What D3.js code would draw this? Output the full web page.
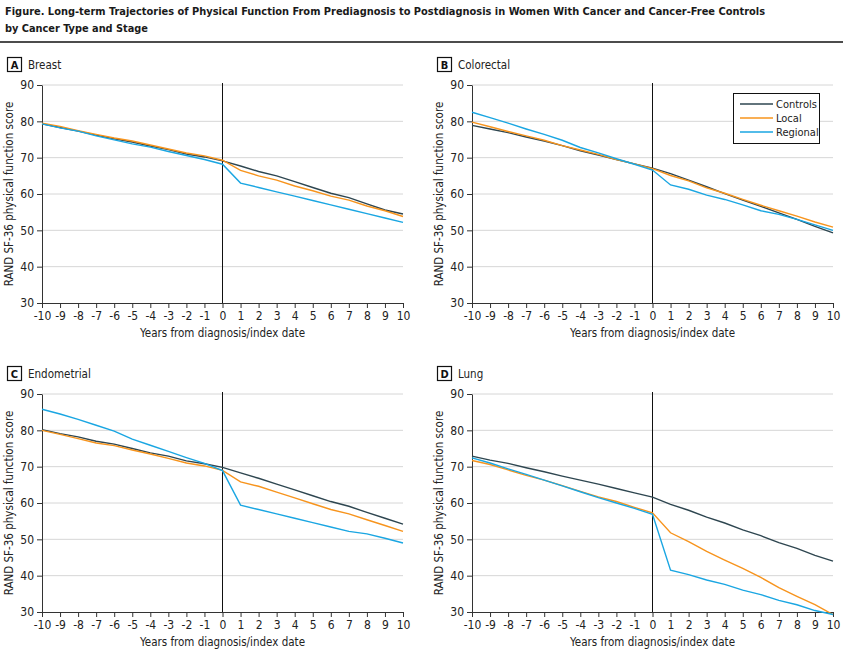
<!DOCTYPE html>
<html><head><meta charset="utf-8">
<script src="https://cdn.jsdelivr.net/npm/d3@7"></script>
<style>
body{margin:0;background:#fff;}
text{font-family:"Liberation Sans Narrow","DejaVu Sans Condensed","Roboto",sans-serif;}
</style></head>
<body><svg id="c" width="843" height="653"></svg>
<script>
const years = [-10,-9,-8,-7,-6,-5,-4,-3,-2,-1,0,1,2,3,4,5,6,7,8,9,10];
const yTicks = [30,40,50,60,70,80,90];
const seriesNames = ["Controls","Local","Regional"];
const seriesColors = ["#2e4650","#f7941d","#1aa6e2"];

const breastControls = [79.3,78.3,77.3,76.2,75.2,74.3,73.2,72.2,71.0,70.2,69.1,67.7,66.2,65.0,63.4,61.8,60.2,59.0,57.3,55.6,54.5];
const breastLocal    = [79.5,78.6,77.4,76.4,75.4,74.6,73.5,72.4,71.3,70.5,69.3,66.5,65.0,63.8,62.2,60.9,59.4,58.3,56.7,55.4,53.8];
const breastRegional = [79.3,78.2,77.3,76.0,74.9,73.8,72.9,71.7,70.6,69.5,68.2,63.0,61.8,60.6,59.4,58.2,57.0,55.8,54.6,53.4,52.2];

const colorectalControls = [78.9,77.9,76.9,75.7,74.6,73.3,71.9,70.7,69.5,68.3,67.1,65.6,63.8,62.0,60.1,58.3,56.6,54.8,53.0,51.1,49.3];
const colorectalLocal    = [79.8,78.5,77.2,76.0,74.8,73.3,72.1,70.9,69.5,68.3,67.0,65.1,63.6,61.7,60.2,58.5,56.9,55.4,53.9,52.3,50.9];
const colorectalRegional = [82.5,81.0,79.5,77.9,76.4,74.8,72.8,71.3,69.7,68.2,66.6,62.5,61.3,59.7,58.5,57.0,55.4,54.4,53.0,51.5,50.0];

const endometrialControls = [80.2,79.1,78.2,77.0,76.2,75.0,73.8,72.9,71.6,70.8,69.8,68.3,66.8,65.2,63.6,62.0,60.4,59.1,57.4,55.8,54.2];
const endometrialLocal    = [80.0,78.9,77.7,76.5,75.8,74.6,73.5,72.3,71.0,70.2,69.0,65.8,64.6,63.0,61.4,59.8,58.2,57.0,55.4,53.8,52.2];
const endometrialRegional = [85.8,84.5,83.0,81.4,79.8,77.6,75.9,74.2,72.5,70.9,68.9,59.4,58.2,57.0,55.8,54.6,53.4,52.2,51.5,50.3,49.0];

const lungControls = [72.9,71.8,70.9,69.7,68.6,67.4,66.3,65.2,64.0,62.8,61.6,59.6,58.0,56.1,54.5,52.6,51.0,49.1,47.5,45.6,44.0];
const lungLocal    = [71.7,70.6,69.1,67.6,66.3,64.8,63.2,61.7,60.4,58.8,57.3,51.8,49.4,46.7,44.3,42.0,39.5,36.7,34.3,32.0,29.3];
const lungRegional = [72.4,71.0,69.4,67.9,66.3,64.7,63.1,61.5,60.0,58.5,56.9,41.5,40.3,38.8,37.6,36.0,34.8,33.2,32.0,30.4,29.3];

const panels = [
  {letter:"A", name:"Breast", series:[breastControls,breastLocal,breastRegional], x0:42, x1:403, y0:85, y1:303, legend:false},
  {letter:"B", name:"Colorectal", series:[colorectalControls,colorectalLocal,colorectalRegional], x0:472, x1:833, y0:85, y1:303, legend:true},
  {letter:"C", name:"Endometrial", series:[endometrialControls,endometrialLocal,endometrialRegional], x0:42, x1:403, y0:394, y1:612, legend:false},
  {letter:"D", name:"Lung", series:[lungControls,lungLocal,lungRegional], x0:472, x1:833, y0:394, y1:612, legend:false}
];

const svg = d3.select("#c");
const txt = "#222";

// Title
svg.append("text").attr("x",5).attr("y",15).attr("font-size",11).attr("font-weight","bold").attr("fill","#1a1a1a")
  .attr("textLength",760).attr("lengthAdjust","spacingAndGlyphs")
  .text("Figure. Long-term Trajectories of Physical Function From Prediagnosis to Postdiagnosis in Women With Cancer and Cancer-Free Controls");
svg.append("text").attr("x",5).attr("y",32).attr("font-size",11).attr("font-weight","bold").attr("fill","#1a1a1a")
  .attr("textLength",143).attr("lengthAdjust","spacingAndGlyphs")
  .text("by Cancer Type and Stage");
svg.append("line").attr("x1",0).attr("x2",843).attr("y1",42).attr("y2",42).attr("stroke","#111").attr("stroke-width",1.5);

panels.forEach(p => {
  const g = svg.append("g");
  const x = d3.scaleLinear().domain([-10,10]).range([p.x0,p.x1]);
  const y = d3.scaleLinear().domain([30,90]).range([p.y1,p.y0]);

  // panel label
  const bx = p.x0 - 35, by = p.y0 - 28;
  g.append("rect").attr("x",bx+0.5).attr("y",by+0.5).attr("width",14).attr("height",14).attr("fill","none").attr("stroke","#111").attr("stroke-width",1.2);
  g.append("text").attr("x",bx+7.5).attr("y",by+11.5).attr("text-anchor","middle").attr("font-size",11).attr("font-weight","bold").attr("fill","#111").text(p.letter);
  g.append("text").attr("x",bx+21).attr("y",by+11.5).attr("font-size",11.5).attr("fill",txt).text(p.name);

  // gridlines
  g.selectAll(".grid").data(yTicks.filter(t=>t>30)).join("line")
    .attr("x1",p.x0).attr("x2",p.x1).attr("y1",d=>y(d)).attr("y2",d=>y(d))
    .attr("stroke","#d6d6d6").attr("stroke-width",1);

  // axes
  const ya = g.append("g").attr("transform",`translate(${p.x0},0)`)
    .call(d3.axisLeft(y).tickValues(yTicks).tickSize(5).tickSizeOuter(0).tickPadding(3));
  const xa = g.append("g").attr("transform",`translate(0,${p.y1})`)
    .call(d3.axisBottom(x).tickValues(years).tickSize(5).tickSizeOuter(0).tickPadding(3).tickFormat(d=>d));
  [ya,xa].forEach(a=>{
    a.selectAll("path,line").attr("stroke","#333").attr("stroke-width",1);
    a.selectAll("text").attr("font-size",12).attr("fill",txt).attr("font-family",null);
  });

  // vertical line at 0
  g.append("line").attr("x1",x(0)).attr("x2",x(0)).attr("y1",p.y0-2).attr("y2",p.y1).attr("stroke","#111").attr("stroke-width",1);

  // series
  const line = d3.line().x((d,i)=>x(years[i])).y(d=>y(d));
  p.series.forEach((s,i)=>{
    g.append("path").datum(s).attr("d",line).attr("fill","none").attr("stroke",seriesColors[i]).attr("stroke-width",1.4);
  });

  // axis labels
  g.append("text").attr("transform",`translate(${p.x0-29},${(p.y0+p.y1)/2}) rotate(-90)`)
    .attr("text-anchor","middle").attr("font-size",11.5).attr("fill",txt).text("RAND SF-36 physical function score");
  g.append("text").attr("x",(p.x0+p.x1)/2).attr("y",p.y1+34).attr("text-anchor","middle").attr("font-size",11.5).attr("fill",txt)
    .text("Years from diagnosis/index date");

  if (p.legend) {
    const lx = p.x0 + 261, ly = p.y0 + 8;
    const lg = g.append("g");
    lg.append("rect").attr("x",lx+0.5).attr("y",ly+0.5).attr("width",86).attr("height",50).attr("fill","#fff").attr("stroke","#111").attr("stroke-width",1);
    seriesNames.forEach((n,i)=>{
      const yy = ly + 11 + i*14;
      lg.append("line").attr("x1",lx+7).attr("x2",lx+40).attr("y1",yy).attr("y2",yy).attr("stroke",seriesColors[i]).attr("stroke-width",1.4);
      lg.append("text").attr("x",lx+43).attr("y",yy+4).attr("font-size",11).attr("fill",txt).text(n);
    });
  }
});
</script></body></html>
